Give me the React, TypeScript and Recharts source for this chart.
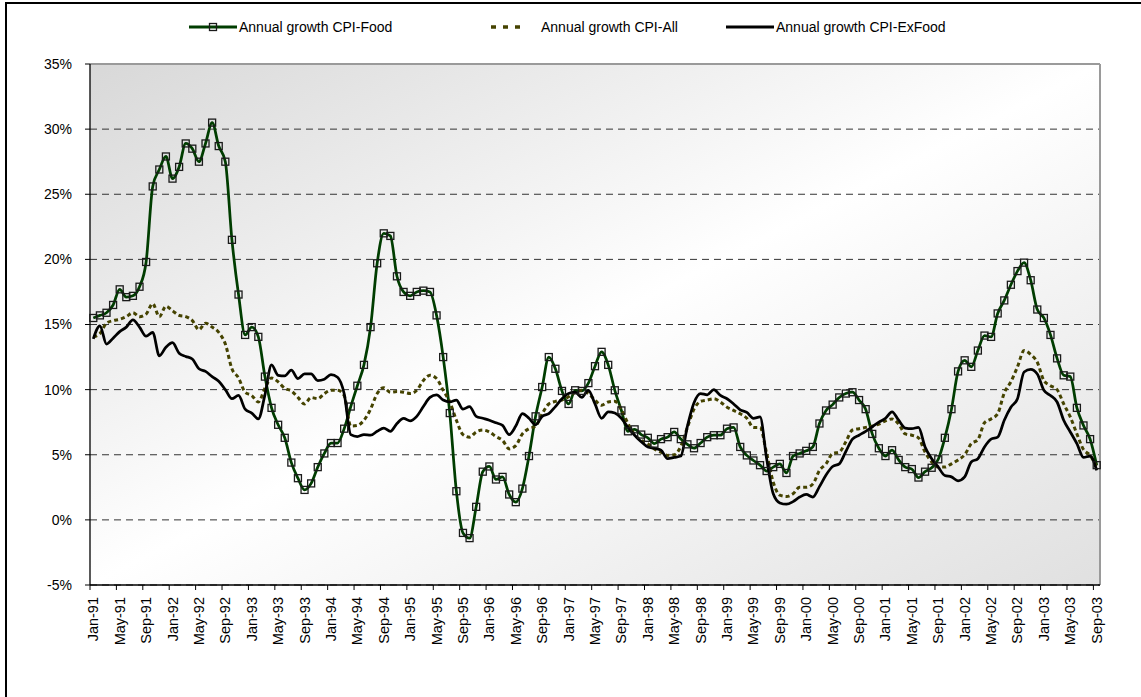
import React from "react";
import {
  LineChart,
  Line,
  XAxis,
  YAxis,
  CartesianGrid,
  ReferenceLine,
} from "recharts";

// monthly annual growth rates, Jan-91 .. Sep-03 (153 months)
const FOOD = [
  15.5, 15.7, 15.9, 16.5, 17.7, 17.1, 17.2, 17.9, 19.8, 25.6,
  26.9, 27.9, 26.2, 27.1, 28.9, 28.5, 27.5, 28.9, 30.5, 28.7,
  27.5, 21.5, 17.3, 14.2, 14.8, 14.05, 11.0, 8.6, 7.3, 6.3,
  4.4, 3.2, 2.3, 2.8, 4.05, 5.1, 5.9, 5.9, 7.0, 8.7,
  10.3, 11.9, 14.8, 19.7, 22.0, 21.8, 18.7, 17.5, 17.2, 17.5,
  17.6, 17.5, 15.7, 12.5, 8.2, 2.2, -1.0, -1.4, 1.0, 3.7,
  4.1, 3.1, 3.3, 1.95, 1.36, 2.4, 4.9, 7.95, 10.2, 12.5,
  11.6, 9.9, 8.9, 9.95, 9.9, 10.5, 11.8, 12.9, 11.9, 9.95,
  8.4, 6.8, 6.95, 6.55, 6.3, 5.85, 6.2, 6.35, 6.75, 6.2,
  5.8, 5.5, 5.9, 6.35, 6.5, 6.5, 7.0, 7.1, 5.6, 4.95,
  4.56, 4.2, 3.75, 4.05, 4.3, 3.6, 4.9, 5.1, 5.3, 5.6,
  7.4, 8.4, 8.85, 9.4, 9.7, 9.8, 9.2, 8.5, 6.6, 5.5,
  4.9, 5.35, 4.6, 4.05, 3.9, 3.25, 3.7, 4.0, 4.65, 6.3,
  8.5, 11.4, 12.25, 11.75, 13.0, 14.15, 14.05, 15.85, 16.85, 18.05,
  19.1, 19.75, 18.4, 16.15, 15.5, 14.2, 12.4, 11.1, 11.0, 8.6,
  7.25, 6.2, 4.2,
];

const ALL = [
  14.05, 14.3, 15.1, 15.3, 15.4, 15.6, 15.9, 15.6, 15.8, 16.6,
  15.6, 16.4, 16.05, 15.7, 15.6, 15.3, 14.6, 15.1, 14.8, 14.4,
  13.5, 11.6, 10.9, 9.8, 9.55, 9.05, 10.1, 10.9, 10.6, 10.1,
  9.9, 9.4, 8.9, 9.4, 9.3, 9.7, 9.95, 9.95, 9.55, 7.2,
  7.25, 7.65, 8.5, 9.7, 10.15, 9.8, 9.85, 9.8, 9.7, 9.95,
  10.7, 11.1, 10.85, 9.95, 9.05, 7.65, 6.55, 6.35, 6.75, 6.9,
  6.75, 6.4, 6.1, 5.45, 5.7, 6.6, 7.0, 7.2, 8.15, 8.9,
  9.1, 9.2, 9.45, 9.8, 9.95, 9.7, 9.2, 8.8, 9.05, 9.1,
  8.45, 7.4, 6.55, 6.1, 5.85, 5.45, 5.2, 4.95, 5.0, 5.65,
  7.1, 8.5, 9.1, 9.2, 9.3, 9.05, 8.65, 8.4, 8.15, 7.8,
  7.1, 7.1, 5.1, 2.9, 1.9, 1.8, 2.0, 2.5, 2.5, 2.75,
  3.8, 4.3, 5.1, 5.2, 6.0, 6.9, 7.0, 7.1, 7.2, 7.35,
  7.6, 7.75, 7.35, 6.6, 6.5, 6.3, 5.2, 4.45, 4.05, 4.05,
  4.3, 4.6, 5.0, 5.85, 6.15, 7.45, 7.75, 8.15, 9.75, 10.6,
  11.75, 13.0, 12.7, 12.1, 10.7, 10.3, 10.0, 8.9, 7.9, 6.6,
  5.4, 4.95, 4.05,
];

const EXFOOD = [
  13.9, 14.9, 13.5, 13.95, 14.45, 14.8, 15.35, 14.8, 14.1, 14.4,
  12.6, 13.25, 13.6, 12.8, 12.55, 12.35, 11.6, 11.4, 11.0, 10.65,
  10.0, 9.3, 9.55, 8.5, 8.2, 7.75, 9.6, 11.9, 11.1, 11.05,
  11.5, 10.85, 11.2, 11.2, 10.7, 10.8, 11.15, 10.95, 9.7, 6.55,
  6.4, 6.55, 6.5, 6.8, 7.05, 6.8, 7.4, 7.8, 7.6, 7.95,
  8.7, 9.4, 9.6, 9.2, 9.05, 9.2, 8.5, 8.7, 7.95, 7.8,
  7.65, 7.45, 7.25, 6.55, 7.2, 8.15, 7.8, 7.3, 7.95, 8.15,
  8.7, 9.3, 9.7, 9.8, 9.4, 9.95, 8.9, 7.8, 8.3, 8.2,
  7.8, 7.1, 6.5, 6.0, 5.6, 5.5, 5.35, 4.7, 4.8, 4.9,
  7.2, 9.0, 9.7, 9.6, 10.0, 9.55, 9.3, 8.9, 8.45, 8.25,
  7.8, 7.9, 4.7, 2.0, 1.3, 1.2, 1.4, 1.75, 1.95, 1.75,
  2.55, 3.45, 4.1, 4.3, 5.25, 6.2, 6.5, 6.8, 7.15, 7.5,
  7.8, 8.3, 7.65, 7.05, 7.0, 7.1, 5.6, 4.7, 4.05, 3.4,
  3.3, 3.0, 3.3, 4.45, 4.7, 5.6, 6.2, 6.35, 7.65, 8.65,
  9.3, 11.35, 11.55, 11.2, 9.95, 9.55, 9.05, 7.65, 6.75, 5.85,
  4.8, 4.9, 3.8,
];

const MONTH_NAMES = ["Jan", "Feb", "Mar", "Apr", "May", "Jun", "Jul", "Aug", "Sep", "Oct", "Nov", "Dec"];
const CATEGORIES = FOOD.map(
  (_, i) => `${MONTH_NAMES[i % 12]}-${String(91 + Math.floor(i / 12)).slice(-2)}`
);
const Y_TICKS = [-5, 0, 5, 10, 15, 20, 25, 30, 35];
const LABEL_EVERY = 4;

const data = CATEGORIES.map((month, i) => ({
  idx: i,
  month,
  food: FOOD[i],
  all: ALL[i],
  exfood: EXFOOD[i],
}));

// tick marks sit on category boundaries, labels under the category centre
const xTicks = CATEGORIES.map((_, i) => i)
  .filter((i) => i % LABEL_EVERY === 0)
  .map((i) => i - 0.5);

const W = 1141;
const H = 697;
const MARGIN = { top: 64, right: 41, bottom: 30, left: 30 };
const X_AXIS_H = 82;
const Y_AXIS_W = 60;
const PLOT_W = W - MARGIN.left - MARGIN.right - Y_AXIS_W;
const HALF_BAND = PLOT_W / CATEGORIES.length / 2;

const FONT = "'Liberation Sans', Arial, sans-serif";
const FOOD_COLOR = "#003d00";
const ALL_COLOR = "#454300";

function MonthTick({ x, y, payload }: any) {
  const label = CATEGORIES[Math.round(payload.value + 0.5)];
  const tx = x + HALF_BAND;
  return (
    <text
      x={tx}
      y={y}
      transform={`rotate(-90, ${tx}, ${y})`}
      textAnchor="end"
      dominantBaseline="central"
      fontSize={14.5}
      fontFamily={FONT}
      fill="#000"
    >
      {label}
    </text>
  );
}

function SquareDot({ cx, cy, index }: any) {
  if (cx == null || cy == null) return <g key={index} />;
  return (
    <rect
      key={index}
      x={cx - 3.5}
      y={cy - 3.5}
      width={7}
      height={7}
      fill="none"
      stroke="#1a1a1a"
      strokeWidth={1.3}
    />
  );
}

function LegendItem({ left, kind, label }: { left: number; kind: string; label: string }) {
  return (
    <div style={{ position: "absolute", left, top: 19, height: 16, display: "flex", alignItems: "center" }}>
      <svg width={48} height={16}>
        {kind === "food" && (
          <>
            <line x1={0} y1={8} x2={48} y2={8} stroke={FOOD_COLOR} strokeWidth={3} />
            <rect x={20.5} y={4.5} width={7} height={7} fill="none" stroke="#1a1a1a" strokeWidth={1.3} />
          </>
        )}
        {kind === "all" && (
          <line x1={0} y1={8} x2={36} y2={8} stroke={ALL_COLOR} strokeWidth={3.5} strokeDasharray="5 7" />
        )}
        {kind === "exfood" && <line x1={0} y1={8} x2={48} y2={8} stroke="#000" strokeWidth={3} />}
      </svg>
      <span style={{ fontFamily: FONT, fontSize: 14, color: "#000", marginLeft: 2, whiteSpace: "nowrap" }}>
        {label}
      </span>
    </div>
  );
}

export default function App() {
  return (
    <div style={{ position: "absolute", left: 0, top: 0, width: W, height: H, background: "#fff", overflow: "hidden" }}>
      <div
        style={{
          position: "absolute",
          left: 5,
          top: 2,
          width: W + 50,
          height: H + 50,
          borderTop: "2px solid #000",
          borderLeft: "2px solid #000",
        }}
      />
      <LegendItem left={189} kind="food" label="Annual growth CPI-Food" />
      <LegendItem left={491} kind="all" label="Annual growth CPI-All" />
      <LegendItem left={726} kind="exfood" label="Annual growth CPI-ExFood" />
      <div style={{ position: "absolute", left: 0, top: 0 }}>
        <LineChart width={W} height={H} data={data} margin={MARGIN}>
          <defs>
            <linearGradient id="plotBg" x1="0" y1="0" x2="1" y2="1">
              <stop offset="0%" stopColor="#d8d8d8" />
              <stop offset="50%" stopColor="#ffffff" />
              <stop offset="100%" stopColor="#e0e0e0" />
            </linearGradient>
          </defs>
          <CartesianGrid
            vertical={false}
            stroke="#333"
            strokeDasharray="7 5"
            fill="url(#plotBg)"
            fillOpacity={1}
          />
          <XAxis
            type="number"
            dataKey="idx"
            height={X_AXIS_H}
            domain={[-0.5, CATEGORIES.length - 0.5]}
            ticks={xTicks}
            interval={0}
            tick={<MonthTick />}
            tickSize={5}
            tickMargin={7}
            axisLine={{ stroke: "#000", strokeWidth: 1.3 }}
            tickLine={{ stroke: "#000" }}
            allowDecimals
          />
          <YAxis
            width={Y_AXIS_W}
            domain={[-5, 35]}
            ticks={Y_TICKS}
            interval={0}
            tickFormatter={(v) => `${v}%`}
            tick={{ fontSize: 14, fontFamily: FONT, fill: "#000" }}
            tickSize={5}
            tickMargin={13}
            axisLine={{ stroke: "#000", strokeWidth: 1.3 }}
            tickLine={{ stroke: "#000" }}
          />
          <ReferenceLine y={35} stroke="#9a9a9a" strokeWidth={2} />
          <ReferenceLine x={CATEGORIES.length - 0.5} stroke="#9a9a9a" strokeWidth={2} />
          <Line
            type="monotone"
            dataKey="food"
            stroke={FOOD_COLOR}
            strokeWidth={2.75}
            dot={SquareDot}
            activeDot={false}
            isAnimationActive={false}
          />
          <Line
            type="monotone"
            dataKey="all"
            stroke={ALL_COLOR}
            strokeWidth={3}
            strokeDasharray="4 3"
            dot={false}
            activeDot={false}
            isAnimationActive={false}
          />
          <Line
            type="monotone"
            dataKey="exfood"
            stroke="#000"
            strokeWidth={2.75}
            dot={false}
            activeDot={false}
            isAnimationActive={false}
          />
        </LineChart>
      </div>
    </div>
  );
}
